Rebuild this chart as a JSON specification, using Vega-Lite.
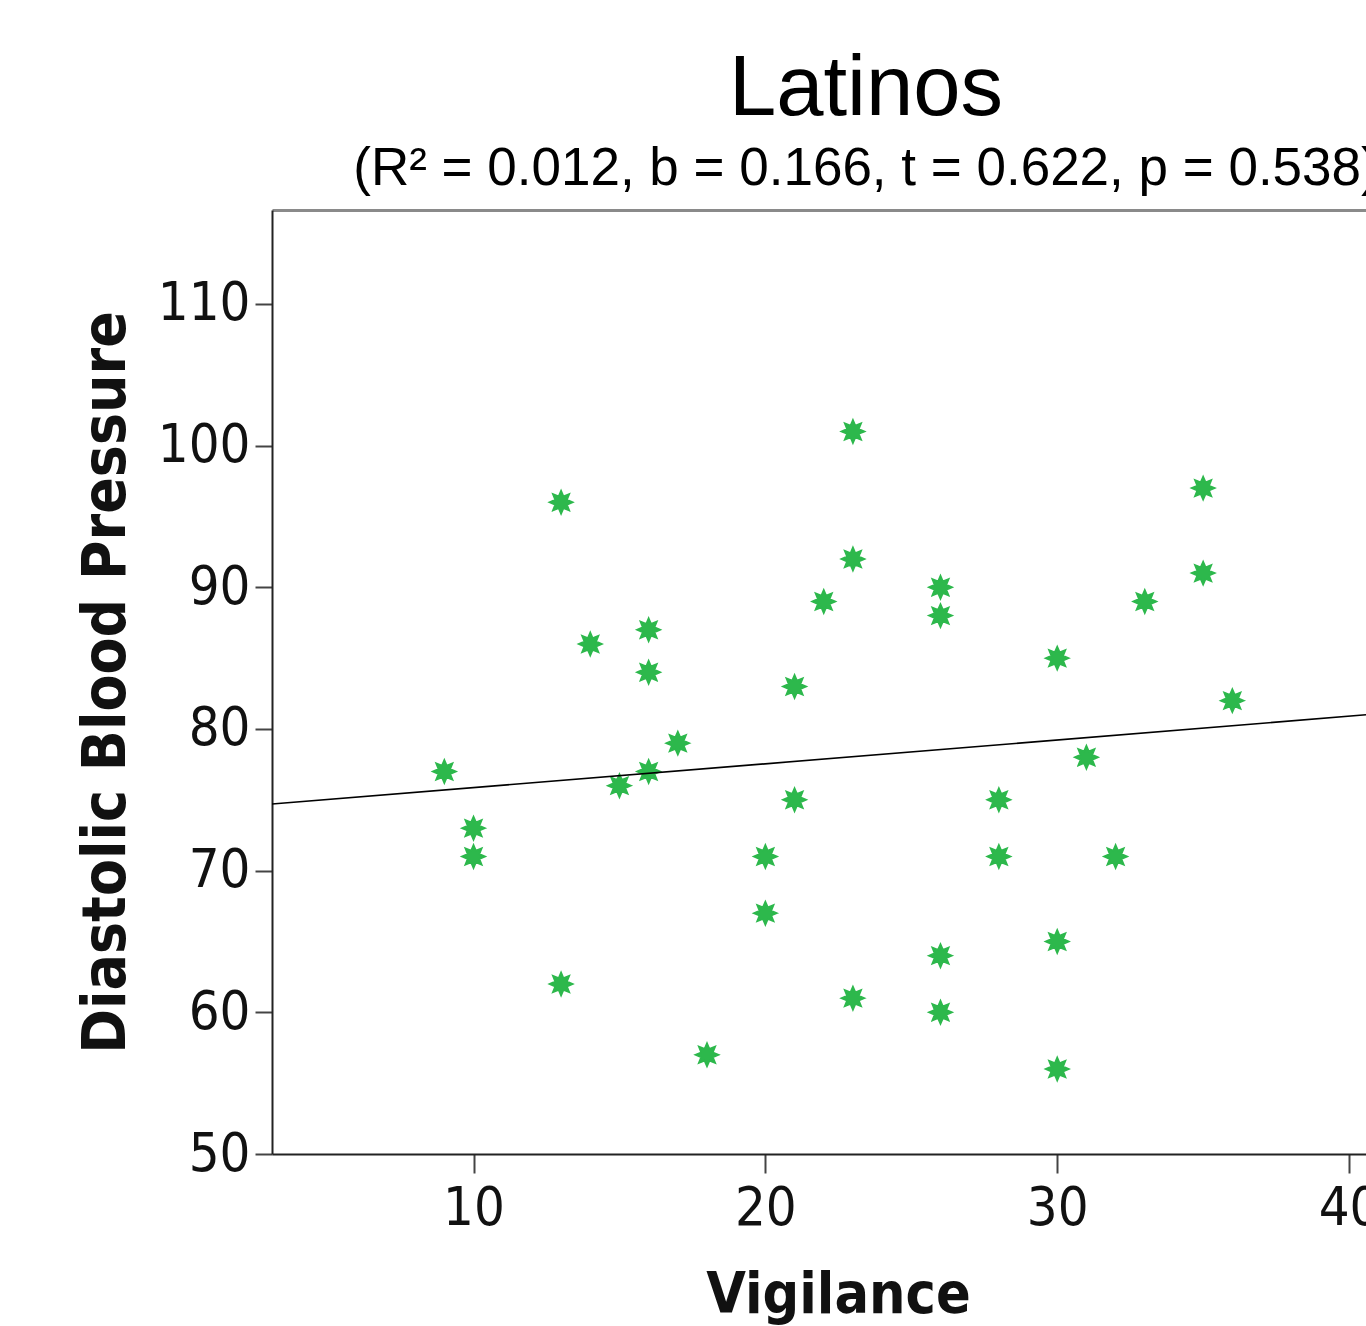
{
  "$schema": "https://vega.github.io/schema/vega-lite/v6.json",
  "autosize": {"type": "none"},
  "width": 1094,
  "height": 944,
  "padding": {"left": 272, "top": 210, "right": 0, "bottom": 172},
  "background": "white",
  "config": {"view": {"stroke": null}},
  "title": {
    "text": "Latinos",
    "subtitle": "(R² = 0.012, b = 0.166, t = 0.622, p = 0.538)",
    "anchor": "middle",
    "frame": "group",
    "dx": 47,
    "offset": 13,
    "font": "Liberation Sans",
    "fontSize": 85,
    "fontWeight": "normal",
    "color": "#000000",
    "subtitleFont": "Liberation Sans",
    "subtitleFontSize": 53,
    "subtitleColor": "#000000",
    "subtitlePadding": 10
  },
  "datasets": {
    "points": [
      {"vigilance": 9, "dbp": 77},
      {"vigilance": 10, "dbp": 73},
      {"vigilance": 10, "dbp": 71},
      {"vigilance": 13, "dbp": 96},
      {"vigilance": 13, "dbp": 62},
      {"vigilance": 14, "dbp": 86},
      {"vigilance": 15, "dbp": 76},
      {"vigilance": 16, "dbp": 87},
      {"vigilance": 16, "dbp": 84},
      {"vigilance": 16, "dbp": 77},
      {"vigilance": 17, "dbp": 79},
      {"vigilance": 18, "dbp": 57},
      {"vigilance": 20, "dbp": 71},
      {"vigilance": 20, "dbp": 67},
      {"vigilance": 21, "dbp": 83},
      {"vigilance": 21, "dbp": 75},
      {"vigilance": 22, "dbp": 89},
      {"vigilance": 23, "dbp": 101},
      {"vigilance": 23, "dbp": 92},
      {"vigilance": 23, "dbp": 61},
      {"vigilance": 26, "dbp": 90},
      {"vigilance": 26, "dbp": 88},
      {"vigilance": 26, "dbp": 64},
      {"vigilance": 26, "dbp": 60},
      {"vigilance": 28, "dbp": 75},
      {"vigilance": 28, "dbp": 71},
      {"vigilance": 30, "dbp": 85},
      {"vigilance": 30, "dbp": 65},
      {"vigilance": 30, "dbp": 56},
      {"vigilance": 31, "dbp": 78},
      {"vigilance": 32, "dbp": 71},
      {"vigilance": 33, "dbp": 89},
      {"vigilance": 35, "dbp": 97},
      {"vigilance": 35, "dbp": 91},
      {"vigilance": 36, "dbp": 82}
    ],
    "fit": [
      {"vigilance": 3.095, "dbp": 74.7},
      {"vigilance": 40.58, "dbp": 81.0}
    ]
  },
  "resolve": {"axis": {"x": "independent"}},
  "layer": [
    {
      "data": {"name": "points"},
      "mark": {
        "type": "point",
        "shape": "M1,0 L0.508,0.2105 L0.7071,0.7071 L0.2105,0.508 L0,1 L-0.2105,0.508 L-0.7071,0.7071 L-0.508,0.2105 L-1,0 L-0.508,-0.2105 L-0.7071,-0.7071 L-0.2105,-0.508 L0,-1 L0.2105,-0.508 L0.7071,-0.7071 L0.508,-0.2105 Z",
        "filled": true,
        "size": 560,
        "color": "#2db84c",
        "opacity": 1,
        "stroke": "#2db84c",
        "strokeWidth": 1.5
      },
      "encoding": {
        "x": {
          "field": "vigilance",
          "type": "quantitative",
          "scale": {"domain": [3.095, 40.58], "nice": false, "zero": false},
          "axis": {
            "title": "Vigilance",
            "titleX": 566,
            "orient": "bottom",
            "values": [10, 20, 30, 40],
            "grid": false,
            "labelFlush": false,
            "domainColor": "#222222",
            "domainWidth": 2,
            "tickColor": "#444444",
            "tickWidth": 2,
            "tickSize": 19,
            "labelPadding": 8,
            "labelFont": "DejaVu Sans Condensed",
            "labelFontSize": 54,
            "labelColor": "#111111",
            "titleFont": "DejaVu Sans Condensed",
            "titleFontSize": 57,
            "titleFontWeight": "bold",
            "titleColor": "#111111",
            "titlePadding": 32
          }
        },
        "y": {
          "field": "dbp",
          "type": "quantitative",
          "scale": {"domain": [50, 116.63], "nice": false, "zero": false},
          "axis": {
            "title": "Diastolic Blood Pressure",
            "values": [50, 60, 70, 80, 90, 100, 110],
            "grid": false,
            "domainColor": "#222222",
            "domainWidth": 2,
            "tickColor": "#444444",
            "tickWidth": 2,
            "tickSize": 17,
            "labelPadding": 5,
            "labelFont": "DejaVu Sans Condensed",
            "labelFontSize": 54,
            "labelColor": "#111111",
            "titleFont": "DejaVu Sans Condensed",
            "titleFontSize": 60,
            "titleFontWeight": "bold",
            "titleColor": "#111111",
            "titlePadding": 20
          }
        }
      }
    },
    {
      "data": {"name": "fit"},
      "mark": {"type": "line", "color": "#000000", "strokeWidth": 1.6, "clip": true},
      "encoding": {
        "x": {
          "field": "vigilance",
          "type": "quantitative",
          "axis": {
            "orient": "top",
            "title": null,
            "labels": false,
            "ticks": false,
            "grid": false,
            "domainColor": "#8a8a8a",
            "domainWidth": 3
          }
        },
        "y": {"field": "dbp", "type": "quantitative"}
      }
    }
  ]
}
